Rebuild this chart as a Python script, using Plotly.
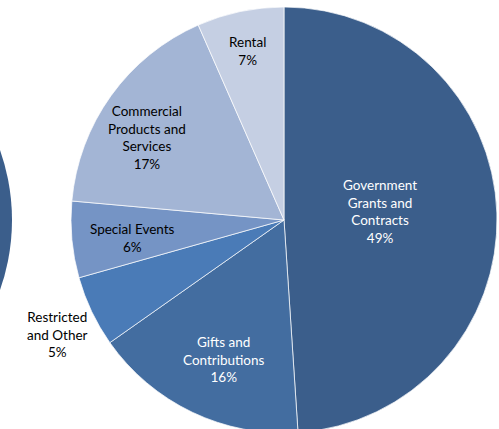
import plotly.graph_objects as go

categories = ["Government<br>Grants and<br>Contracts", "Gifts and<br>Contributions",
              "Restricted<br>and Other", "Special Events",
              "Commercial<br>Products and<br>Services", "Rental"]
values = [49.0, 16.3, 5.4, 5.8, 17.0, 6.6]
colors = ["#3B5E8B", "#436DA0", "#4A7BB7", "#7594C5", "#A3B5D5", "#C5CFE3"]
text_colors = ["white", "white", "black", "black", "black", "black"]
# label centres in pixels (x from left, y from top)
label_pos = [(380, 211), (224, 359), (57, 334), (132, 238), (147, 138), (247, 51)]

W, H = 499, 433  # slightly taller than the window: the pie runs off the bottom edge

fig = go.Figure()
fig.add_trace(go.Pie(
    labels=categories, values=values, sort=False, direction="clockwise", rotation=0,
    marker=dict(colors=colors, line=dict(color="white", width=0.7)),
    textinfo="none", showlegend=False, hoverinfo="label+percent",
    domain=dict(x=[71 / W, 497 / W], y=[0, 1 - 7 / H]),
))
total = sum(values)
for cat, v, tc, (px, py) in zip(categories, values, text_colors, label_pos):
    fig.add_annotation(x=px / W, y=1 - py / H, xref="paper", yref="paper",
                       text=f"{cat}<br>{round(100 * v / total)}%", showarrow=False,
                       align="center", xanchor="center", yanchor="middle",
                       font=dict(family="Lato", size=13.5, color=tc))
# neighbouring chart's pie, partly visible at the left edge
fig.add_shape(type="circle", xref="paper", yref="paper",
              x0=-408 / W, x1=12 / W, y0=1 - 430 / H, y1=1 - 10 / H,
              fillcolor="#3B5E8B", line=dict(width=0), layer="below")
fig.update_layout(width=W, height=H, margin=dict(l=0, r=0, t=0, b=0),
                  paper_bgcolor="white", plot_bgcolor="white")
fig.write_html("out.html", config={"displayModeBar": False}, post_script=(
    "document.body.style.margin='0';"
    "document.body.style.overflow='hidden';"
    "document.documentElement.style.overflow='hidden';"))
